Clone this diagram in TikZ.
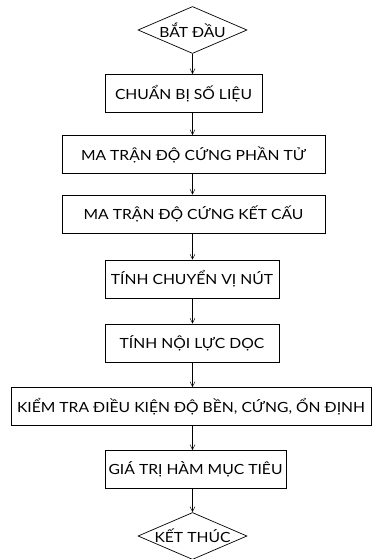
\documentclass[tikz,border=0pt]{standalone}
\usepackage{fontspec}
\setmainfont[FakeStretch=1.12]{Lato}
\usepackage{tikz}
\usetikzlibrary{arrows.meta, shapes.geometric}

\begin{document}
\begin{tikzpicture}[x=1pt, y=-1pt,
        every node/.style={font=\fontsize{14}{16}\selectfont, inner sep=0pt},
        stepbox/.style={rectangle, draw, line width=0.7pt, minimum height=38pt},
        terminal/.style={diamond, draw, line width=0.7pt, aspect=2.3, minimum width=109pt, minimum height=47pt},
        flow/.style={line width=1.3pt, -{Straight Barb[length=5pt, width=5pt, line width=0.5pt]}}]
    \useasboundingbox (0, 0) rectangle (373, 559);

    \node[terminal] at (192.5, 30)   (start) {BẮT ĐẦU};
    \node[stepbox, minimum width=157pt] at (183.5, 93.5)   (input) {CHUẨN BỊ SỐ LIỆU};
    \node[stepbox, minimum width=263pt] at (193.5, 154.5)   (kelem) {MA TRẬN ĐỘ CỨNG PHẦN TỬ};
    \node[stepbox, minimum width=263pt] at (193.5, 214)   (kstruct) {MA TRẬN ĐỘ CỨNG KẾT CẤU};
    \node[stepbox, minimum width=174pt] at (192, 279)   (disp) {TÍNH CHUYỂN VỊ NÚT};
    \node[stepbox, minimum width=174pt] at (192, 343)   (force) {TÍNH NỘI LỰC DỌC};
    \node[stepbox, minimum width=360pt] at (191, 406.5)   (check) {KIỂM TRA ĐIỀU KIỆN ĐỘ BỀN, CỨNG, ỔN ĐỊNH};
    \node[stepbox, minimum width=181pt] at (195.5, 469.5)   (obj) {GIÁ TRỊ HÀM MỤC TIÊU};
    \node[terminal] at (192.5, 536)   (stop) {KẾT THÚC};

    \draw [flow] (start.south -| start) -- (input.north -| start);
    \draw [flow] (input.south -| start) -- (kelem.north -| start);
    \draw [flow] (kelem.south -| start) -- (kstruct.north -| start);
    \draw [flow] (kstruct.south -| start) -- (disp.north -| start);
    \draw [flow] (disp.south -| start) -- (force.north -| start);
    \draw [flow] (force.south -| start) -- (check.north -| start);
    \draw [flow] (check.south -| start) -- (obj.north -| start);
    \draw [flow] (obj.south -| start) -- (stop.north -| start);
\end{tikzpicture}
\end{document}
